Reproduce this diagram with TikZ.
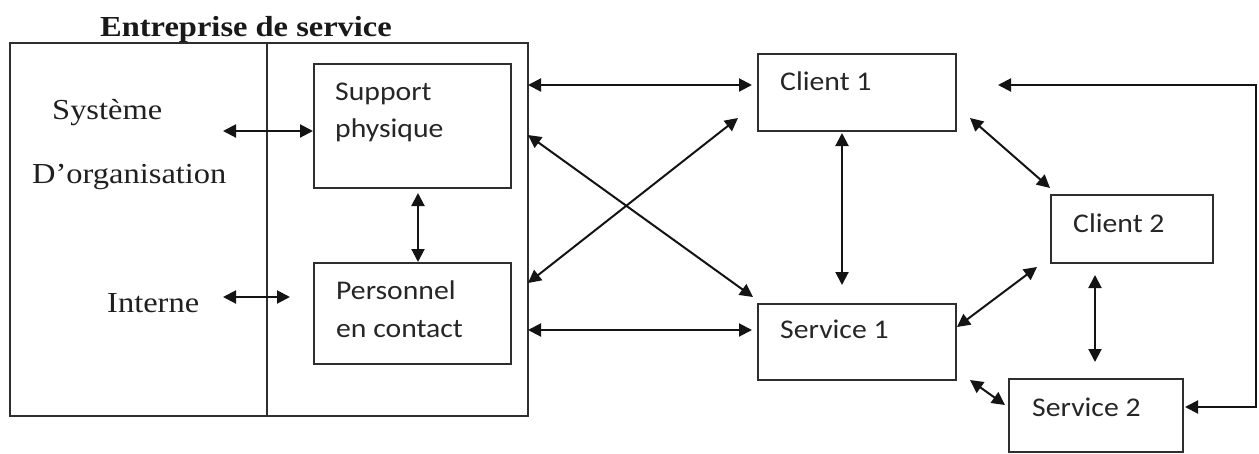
\documentclass[tikz,border=0pt]{standalone}
\usepackage{fontspec}
\setmainfont{Liberation Serif}[FakeStretch=1.12]
\newfontfamily\calfont{Carlito}[FakeStretch=1.1]
\usetikzlibrary{arrows.meta}
\tikzset{
  boxnode/.style={draw=black!82, line width=2pt, inner sep=0pt, fill=none},
  serlabel/.style={anchor=base west, inner sep=0pt, text=black!88, font=\fontsize{29}{34}\selectfont},
  ttl/.style={anchor=base west, inner sep=0pt, text=black!90, font=\fontsize{29}{34}\selectfont\bfseries},
  callabel/.style={anchor=base west, inner sep=0pt, text=black!85, font=\calfont\fontsize{27}{32}\selectfont},
  conn/.style={line width=2pt, draw=black!92, {Triangle[length=13pt,width=13pt]}-{Triangle[length=13pt,width=13pt]}},
}
\begin{document}
\begin{tikzpicture}[x=1pt,y=-1pt]
\useasboundingbox[fill=white] (0,0) rectangle (1259,453);

% boxes
\node[boxnode, minimum width=518pt, minimum height=373pt] (outer) at (269,229.5) {};
\node[boxnode, minimum width=197pt, minimum height=124pt] (sp) at (412.5,126) {};
\node[boxnode, minimum width=197pt, minimum height=101pt] (pc) at (412.5,313.5) {};
\node[boxnode, minimum width=198pt, minimum height=77pt] (c1) at (857,92.5) {};
\node[boxnode, minimum width=198pt, minimum height=76pt] (s1) at (857,342) {};
\node[boxnode, minimum width=162pt, minimum height=68pt] (c2) at (1132,229) {};
\node[boxnode, minimum width=174pt, minimum height=73pt] (s2) at (1096,415.5) {};

% divider
\coordinate (divtop) at (267,43);
\coordinate (divbot) at (267,416);
\draw[line width=2pt, black!82] (divtop) -- (divbot);

% texts
\node[ttl] (title) at (100,36) {Entreprise de service};
\node[serlabel] (sys) at (52,119) {Système};
\node[serlabel] (dorg) at (32,183) {D’organisation};
\node[serlabel] (int) at (107,312) {Interne};
\node[callabel] (spa) at (335,100) {Support};
\node[callabel] (spb) at (335,137) {physique};
\node[callabel] (pca) at (336,299) {Personnel};
\node[callabel] (pcb) at (336,337) {en contact};
\node[callabel] (c1t) at (780,90) {Client 1};
\node[callabel] (s1t) at (780,338) {Service 1};
\node[callabel] (c2t) at (1073,232) {Client 2};
\node[callabel] (s2t) at (1032,416) {Service 2};

% free ends
\coordinate (sysR) at (223,131);
\coordinate (intL) at (223,297);
\coordinate (intR) at (290,297);
\coordinate (spB) at (418,193);
\coordinate (o1) at (528,85);
\coordinate (o2) at (528,135);
\coordinate (o3) at (528,283);
\coordinate (o4) at (528,330);
\coordinate (c1L) at (752,85);
\coordinate (s1UL) at (753,297);
\coordinate (c1LL) at (738,118);
\coordinate (s1L) at (752,330);
\coordinate (c1B) at (842,133);
\coordinate (s1T) at (842,285);
\coordinate (c1R) at (970,118);
\coordinate (c2UL) at (1050,188);
\coordinate (s1R) at (957,327);
\coordinate (c2LL) at (1037,267);
\coordinate (c2B) at (1095,275);
\coordinate (s2T) at (1095,362);
\coordinate (s1BR) at (970,380);
\coordinate (s2UL) at (1005,405);
\coordinate (fbR) at (1256,407);
\coordinate (fbT) at (1256,85);
\coordinate (fbE) at (998,85);
\coordinate (s2R) at (1185,407);

% connectors
\draw[conn] (sysR) -- (sysR -| sp.west);
\draw[conn] (intL) -- (intR);
\draw[conn] (spB) -- (spB |- pc.north);
\draw[conn] (o1) -- (c1L);
\draw[conn] (o2) -- (s1UL);
\draw[conn] (o3) -- (c1LL);
\draw[conn] (o4) -- (s1L);
\draw[conn] (c1B) -- (s1T);
\draw[conn] (c1R) -- (c2UL);
\draw[conn] (s1R) -- (c2LL);
\draw[conn] (c2B) -- (s2T);
\draw[conn] (s1BR) -- (s2UL);
\draw[conn] (s2R) -- (fbR) -- (fbT) -- (fbE);
\end{tikzpicture}
\end{document}
